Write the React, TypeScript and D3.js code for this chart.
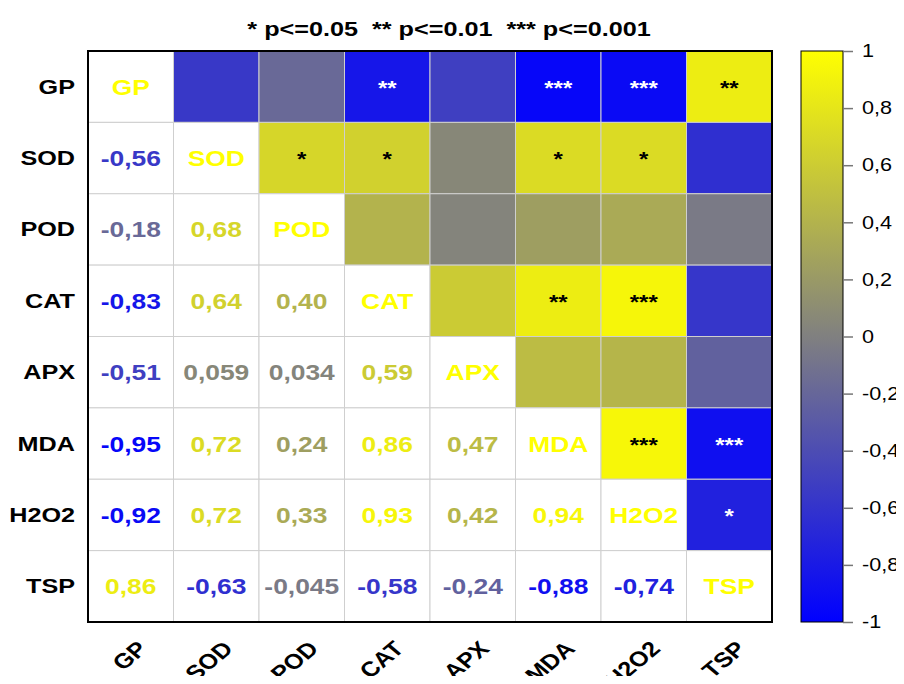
import { useEffect, useRef } from "react";
import * as d3 from "d3";

const vars = ["GP", "SOD", "POD", "CAT", "APX", "MDA", "H2O2", "TSP"];

// lower triangle of the correlation matrix, row by row
const lower: number[][] = [
  [],
  [-0.56],
  [-0.18, 0.68],
  [-0.83, 0.64, 0.4],
  [-0.51, 0.059, 0.034, 0.59],
  [-0.95, 0.72, 0.24, 0.86, 0.47],
  [-0.92, 0.72, 0.33, 0.93, 0.42, 0.94],
  [0.86, -0.63, -0.045, -0.58, -0.24, -0.88, -0.74],
];

// significance stars for the upper triangle: [row, col, stars]
const stars: [number, number, string][] = [
  [0, 3, "**"], [0, 5, "***"], [0, 6, "***"], [0, 7, "**"],
  [1, 2, "*"], [1, 3, "*"], [1, 5, "*"], [1, 6, "*"],
  [3, 5, "**"], [3, 6, "***"],
  [5, 6, "***"], [5, 7, "***"],
  [6, 7, "*"],
];

const legendTicks = [1, 0.8, 0.6, 0.4, 0.2, 0, -0.2, -0.4, -0.6, -0.8, -1];

const FONT = "'Liberation Sans', Arial, sans-serif";
const SX = 1.2; // the reference text is stretched sideways

function fmt(v: number) {
  let s = String(v);
  if (v === 0.4) s = "0.40";
  return s.replace(".", ",");
}

function CorrPlot() {
  const ref = useRef<SVGSVGElement>(null);

  useEffect(() => {
    const svg = d3.select(ref.current);
    svg.selectAll("*").remove();

    const left = 88, right = 772, top = 51, bottom = 622;

    const x = d3.scaleBand().domain(vars).range([left, right]);
    const y = d3.scaleBand().domain(vars).range([top, bottom]);
    const color = d3
      .scaleLinear<string>()
      .domain([-1, 0, 1])
      .range(["#0000ff", "#808080", "#ffff00"]);

    const val = (i: number, j: number) =>
      i > j ? lower[i][j] : lower[j][i];

    const cx = (j: number) => x(vars[j])! + x.bandwidth() / 2;
    const cy = (i: number) => y(vars[i])! + y.bandwidth() / 2;

    const cells: { i: number; j: number }[] = [];
    vars.forEach((_, i) => vars.forEach((_, j) => cells.push({ i, j })));

    // cells
    svg
      .append("g")
      .selectAll("rect")
      .data(cells)
      .enter()
      .append("rect")
      .attr("x", (d) => x(vars[d.j])!)
      .attr("y", (d) => y(vars[d.i])!)
      .attr("width", x.bandwidth())
      .attr("height", y.bandwidth())
      .attr("fill", (d) => (d.j > d.i ? color(val(d.i, d.j)) : "#ffffff"))
      .attr("stroke", "#cfcfcf")
      .attr("stroke-width", 1);

    // outer border
    svg
      .append("rect")
      .attr("x", left)
      .attr("y", top)
      .attr("width", right - left)
      .attr("height", bottom - top)
      .attr("fill", "none")
      .attr("stroke", "#000")
      .attr("stroke-width", 2);

    // lower numbers and diagonal names
    svg
      .append("g")
      .selectAll("text")
      .data(cells.filter((d) => d.j <= d.i))
      .enter()
      .append("text")
      .attr("transform", (d) => `translate(${cx(d.j)},${cy(d.i) + 8}) scale(${SX},1)`)
      .attr("text-anchor", "middle")
      .attr("font-family", FONT)
      .attr("font-weight", "bold")
      .attr("font-size", 22)
      .attr("fill", (d) => (d.i === d.j ? "#ffff00" : color(val(d.i, d.j))))
      .text((d) => (d.i === d.j ? vars[d.i] : fmt(val(d.i, d.j))));

    // stars
    svg
      .append("g")
      .selectAll("text")
      .data(stars)
      .enter()
      .append("text")
      .attr("transform", (d) => `translate(${cx(d[1])},${cy(d[0]) + 8}) scale(${SX},1)`)
      .attr("text-anchor", "middle")
      .attr("font-family", FONT)
      .attr("font-weight", "bold")
      .attr("font-size", 20)
      .attr("fill", (d) => (val(d[0], d[1]) < 0 ? "#ffffff" : "#000000"))
      .text((d) => d[2]);

    // row labels
    svg
      .append("g")
      .selectAll("text")
      .data(vars)
      .enter()
      .append("text")
      .attr("transform", (_, i) => `translate(75,${cy(i) + 7}) scale(${SX},1)`)
      .attr("text-anchor", "end")
      .attr("font-family", FONT)
      .attr("font-weight", "bold")
      .attr("font-size", 21)
      .attr("fill", "#000")
      .text((d) => d);

    // column labels
    svg
      .append("g")
      .selectAll("text")
      .data(vars)
      .enter()
      .append("text")
      .attr(
        "transform",
        (_, j) => `translate(${cx(j) + 18},${bottom + 28}) scale(${SX},1) rotate(-45)`
      )
      .attr("text-anchor", "end")
      .attr("font-family", FONT)
      .attr("font-weight", "bold")
      .attr("font-size", 21)
      .attr("fill", "#000")
      .text((d) => d);

    // title
    svg
      .append("text")
      .attr("transform", `translate(449,36) scale(${SX},1)`)
      .attr("text-anchor", "middle")
      .attr("font-family", FONT)
      .attr("font-weight", "bold")
      .attr("font-size", 21)
      .style("white-space", "pre")
      .text("* p<=0.05  ** p<=0.01  *** p<=0.001");

    // colour bar
    const ly = d3.scaleLinear().domain([1, -1]).range([top, bottom]);
    const grad = svg
      .append("defs")
      .append("linearGradient")
      .attr("id", "cbar")
      .attr("x1", 0)
      .attr("x2", 0)
      .attr("y1", 0)
      .attr("y2", 1);
    grad.append("stop").attr("offset", "0%").attr("stop-color", color(1));
    grad.append("stop").attr("offset", "50%").attr("stop-color", color(0));
    grad.append("stop").attr("offset", "100%").attr("stop-color", color(-1));

    svg
      .append("rect")
      .attr("x", 801)
      .attr("y", top)
      .attr("width", 42)
      .attr("height", bottom - top)
      .attr("fill", "url(#cbar)")
      .attr("stroke", "#000")
      .attr("stroke-width", 1);

    const axis = svg
      .append("g")
      .attr("transform", "translate(843,0)")
      .call(
        d3
          .axisRight(ly)
          .tickValues(legendTicks)
          .tickSize(10)
          .tickPadding(0)
          .tickFormat((d) => String(+d).replace(".", ","))
      );
    axis.select(".domain").remove();
    axis.selectAll("line").attr("stroke", "#777").attr("stroke-width", 1.5);
    axis
      .selectAll("text")
      .attr("x", null)
      .attr("transform", `translate(19,0) scale(${SX},1)`)
      .attr("font-family", FONT)
      .attr("font-size", 18)
      .attr("fill", "#000");
  }, []);

  return <svg ref={ref} width={904} height={684} style={{ display: "block" }} />;
}

export default function App() {
  return (
    <div style={{ margin: -8 }}>
      <CorrPlot />
    </div>
  );
}
